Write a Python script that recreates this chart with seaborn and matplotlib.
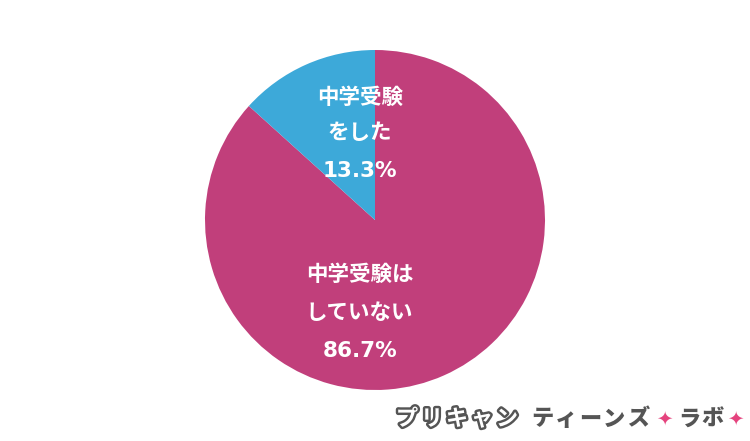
import matplotlib
matplotlib.use("Agg")
import matplotlib.pyplot as plt
import matplotlib.patheffects as pe
import seaborn as sns

sns.set_theme(style="white")
plt.rcParams['font.family'] = ['Noto Sans CJK JP', 'DejaVu Sans']

categories = ["中学受験は\nしていない", "中学受験\nをした"]
values = [86.7, 13.3]
colors = ["#C13F7B", "#3DA9D9"]

fig = plt.figure(figsize=(7.5, 4.41), dpi=100)
fig.patch.set_facecolor("white")
ax = fig.add_axes([205/750, 51/441, 340/750, 340/441])
wedges, _ = ax.pie(values, colors=colors, startangle=90, counterclock=False,
                   wedgeprops=dict(linewidth=0))
ax.set_xlim(-1, 1)
ax.set_ylim(-1, 1)
ax.set_aspect("equal")
ax.axis("off")

label_pos = [(-0.09, [-0.322, -0.545, -0.77]), (-0.09, [0.722, 0.516, 0.29])]
for cat, val, (lx, ys) in zip(categories, values, label_pos):
    lines = cat.split("\n")
    for line, y in zip(lines, ys[:2]):
        ax.text(lx, y, line, ha="center", va="center", color="white",
                fontsize=15.5, fontweight="bold")
    ax.text(lx, ys[2], f"{val:.1f}%", ha="center", va="center", color="white",
            fontsize=15.5, fontweight="bold", family=['DejaVu Sans'])

# watermark
wy = 1 - 419/441
grey = "#555555"
for ch, x in zip("プリキャン", [407, 432, 457, 482, 507]):
    fig.text(x/750, wy, ch, ha="center", va="center", fontsize=16,
             fontweight="bold", color="white",
             path_effects=[pe.withStroke(linewidth=3.5, foreground=grey)])
for ch, x in zip("ティーンズ", [542, 566, 590, 614, 638]):
    fig.text(x/750, wy, ch, ha="center", va="center", fontsize=16,
             fontweight="heavy", color=grey)
for ch, x in zip("ラボ", [689, 712]):
    fig.text(x/750, wy, ch, ha="center", va="center", fontsize=16,
             fontweight="heavy", color=grey)
for x in [664, 735]:
    fig.text(x/750, wy, "✦", ha="center", va="center", fontsize=14,
             color="#E5437E", family=['DejaVu Sans'])

fig.savefig("out.png", dpi=100, facecolor="white")
